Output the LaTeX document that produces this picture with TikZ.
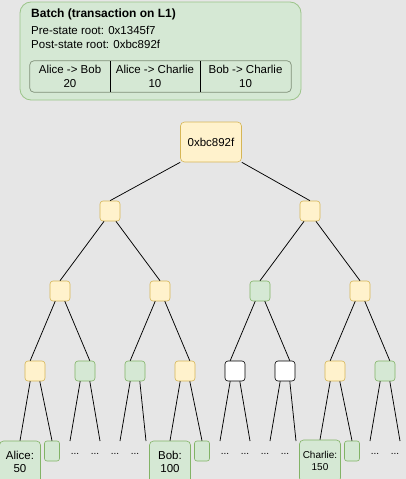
\documentclass[tikz,border=0pt]{standalone}
\usepackage{fontspec}
\setmainfont{Liberation Sans}
\definecolor{bg}{HTML}{E6E6E6}
\definecolor{yfill}{HTML}{FFF2CC}
\definecolor{ydraw}{HTML}{D6B656}
\definecolor{gfill}{HTML}{D5E8D4}
\definecolor{gdraw}{HTML}{82B366}
\definecolor{batchdraw}{HTML}{9CC48A}
\definecolor{tabdraw}{HTML}{7F8F78}
\tikzset{
  txt/.style={font=\fontsize{11.5}{13.5}\selectfont},
  hbox/.style={rectangle, rounded corners=3pt, minimum width=20pt, minimum height=20pt, inner sep=0pt, line width=0.6pt},
  ybox/.style={hbox, fill=yfill, draw=ydraw},
  gbox/.style={hbox, fill=gfill, draw=gdraw},
  wbox/.style={hbox, fill=white, draw=black},
  sbox/.style={rectangle, rounded corners=2.5pt, minimum width=15pt, minimum height=20pt, inner sep=0pt, fill=gfill, draw=gdraw, line width=0.6pt},
  leaf/.style={rectangle, rounded corners=4pt, minimum width=41pt, minimum height=42pt, inner sep=0pt, fill=gfill, draw=gdraw, line width=0.6pt, align=center, txt},
  edge/.style={draw=black, line width=0.75pt},
  dots/.style={font=\fontsize{10}{11}\selectfont, inner sep=0pt},
  cell/.style={rectangle, minimum height=31pt, inner sep=0pt, align=center, txt},
}
\begin{document}
\begin{tikzpicture}[x=1pt,y=-1pt]
\fill[bg] (0,0) rectangle (406,479);
\useasboundingbox (0,0) rectangle (406,479);
% batch box
\node[rectangle, rounded corners=11pt, minimum width=281pt, minimum height=98pt, fill=gfill, draw=batchdraw, line width=0.8pt] (batch) at (160.5,51) {};
\node[anchor=base west, inner sep=0pt, font=\fontsize{12}{14}\selectfont\bfseries] (title) at (31,17) {Batch (transaction on L1)};
\node[txt, anchor=base west, inner sep=0pt] (pre) at (31,34) {Pre-state root: 0x1345f7};
\node[txt, anchor=base west, inner sep=0pt] (post) at (31,48) {Post-state root: 0xbc892f};
\node[cell, minimum width=80pt] (c1) at (70,76.5) {Alice -> Bob\\20};
\node[cell, minimum width=90pt] (c2) at (155,76.5) {Alice -> Charlie\\10};
\node[cell, minimum width=91pt] (c3) at (245.5,76.5) {Bob -> Charlie\\10};
\draw[draw=tabdraw, line width=0.7pt, rounded corners=4pt] (c1.north west) rectangle (c3.south east);
\draw[black, line width=0.7pt] (c1.north east) -- (c1.south east);
\draw[black, line width=0.7pt] (c2.north east) -- (c2.south east);
% root
\node[rectangle, rounded corners=4pt, minimum width=61pt, minimum height=40pt, inner sep=0pt, fill=yfill, draw=ydraw, line width=0.6pt, txt] (root) at (211,142) {0xbc892f};
% level 1
\node[ybox] (a1) at (110,211) {};
\node[ybox] (a2) at (310,211) {};
% level 2
\node[ybox] (b1) at (60,291) {};
\node[ybox] (b2) at (160,291) {};
\node[gbox] (b3) at (260,291) {};
\node[ybox] (b4) at (360,291) {};
% level 3
\node[ybox] (n1) at (35,371) {};
\node[gbox] (n2) at (85,371) {};
\node[gbox] (n3) at (135,371) {};
\node[ybox] (n4) at (185,371) {};
\node[wbox] (n5) at (235,371) {};
\node[wbox] (n6) at (285,371) {};
\node[ybox] (n7) at (335,371) {};
\node[gbox] (n8) at (385,371) {};
% leaves
\node[leaf] (alice) at (20,462) {Alice:\\50};
\node[sbox] (s1) at (52,451) {};
\node[leaf] (bob) at (170,462) {Bob:\\100};
\node[sbox] (s2) at (202,451) {};
\node[leaf, font=\fontsize{10}{12.5}\selectfont] (charlie) at (320,461) {Charlie:\\150};
\node[sbox] (s3) at (352,451) {};
% free ends
\coordinate (e2a) at (70,441);  \coordinate (e2b) at (100,441);
\coordinate (e3a) at (120,441); \coordinate (e3b) at (146,441);
\coordinate (e5a) at (220,441); \coordinate (e5b) at (250,441);
\coordinate (e6a) at (270,441); \coordinate (e6b) at (296,441);
\coordinate (e8a) at (370,441); \coordinate (e8b) at (400,441);
% dots
\foreach \x [count=\i] in {75,95,115,135,225,245,265,285,375,395}
  \node[dots] (dt\i) at (\x,454) {...};
% edges
\draw[edge] (root.south west) -- (a1.north);
\draw[edge] (root.south east) -- (a2.north);
\draw[edge] (a1.-120) -- (b1.north);
\draw[edge] (a1.-60) -- (b2.north);
\draw[edge] (a2.-120) -- (b3.north);
\draw[edge] (a2.-60) -- (b4.north);
\draw[edge] (b1.-115) -- (n1.115);
\draw[edge] (b1.-65) -- (n2.65);
\draw[edge] (b2.-115) -- (n3.115);
\draw[edge] (b2.-65) -- (n4.65);
\draw[edge] (b3.-115) -- (n5.115);
\draw[edge] (b3.-65) -- (n6.65);
\draw[edge] (b4.-115) -- (n7.115);
\draw[edge] (b4.-65) -- (n8.65);
\draw[edge] (n1.-115) -- (alice.north);
\draw[edge] (n1.-65) -- (s1.north);
\draw[edge] (n2.-115) -- (e2a);
\draw[edge] (n2.-65) -- (e2b);
\draw[edge] (n3.-115) -- (e3a);
\draw[edge] (n3.-65) -- (e3b);
\draw[edge] (n4.-115) -- (bob.north);
\draw[edge] (n4.-65) -- (s2.north);
\draw[edge] (n5.-115) -- (e5a);
\draw[edge] (n5.-65) -- (e5b);
\draw[edge] (n6.-115) -- (e6a);
\draw[edge] (n6.-65) -- (e6b);
\draw[edge] (n7.-115) -- (charlie.north);
\draw[edge] (n7.-65) -- (s3.north);
\draw[edge] (n8.-115) -- (e8a);
\draw[edge] (n8.-65) -- (e8b);
\end{tikzpicture}
\end{document}
